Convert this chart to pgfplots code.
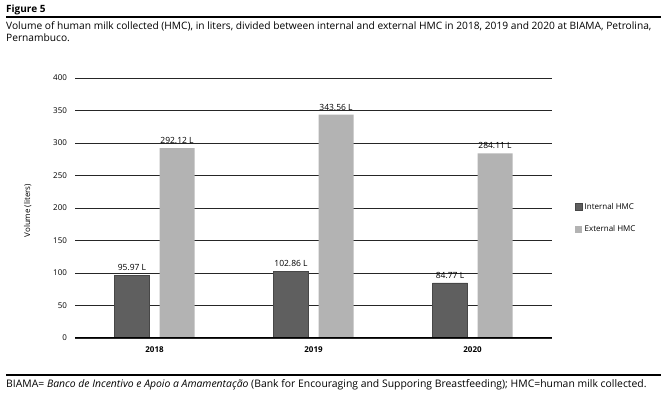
\documentclass[border=0pt]{standalone}
\usepackage{fontspec}
\setmainfont{Open Sans}
\usepackage{pgfplots}
\pgfplotsset{compat=1.18}
\definecolor{cint}{HTML}{5F5F5F}
\definecolor{cext}{HTML}{B3B3B3}
\begin{document}
\begin{tikzpicture}
\path[use as bounding box] (0pt,0pt) rectangle (661pt,393pt);
\node[anchor=west, inner sep=0pt, font=\fontsize{10}{12}\selectfont\bfseries] at (6pt,383pt) {Figure 5};
\draw[line width=1.2pt] (6pt,376pt) -- (661pt,376pt);
\node[anchor=north west, align=left, inner sep=0pt, font=\fontsize{10.2}{12}\selectfont] at (6pt,371pt)
 {Volume of human milk collected (HMC), in liters, divided between internal and external HMC in 2018, 2019 and 2020 at BIAMA, Petrolina,\\Pernambuco.};
\draw[line width=1.8pt] (6pt,18pt) -- (661pt,18pt);
\node[anchor=west, inner sep=0pt, font=\fontsize{10.4}{12}\selectfont] at (6pt,8pt)
 {BIAMA= \textit{Banco de Incentivo e Apoio a Amamentação} (Bank for Encouraging and Supporing Breastfeeding); HMC=human milk collected.};
\begin{axis}[
  at={(75pt,55pt)}, anchor=south west,
  scale only axis, width=477pt, height=260pt,
  ybar=10pt, bar width=35pt,
  ymin=0, ymax=400, xmin=-0.5, xmax=2.5,
  enlargelimits=false,
  xtick={0,1,2}, xticklabels={2018,2019,2020},
  ytick={0,50,...,400},
  ymajorgrids, grid style={black!85, line width=0.8pt},
  axis line style={draw=none},
  major tick length=0pt,
  /pgf/number format/assume math mode=true,
  tick label style={font=\fontsize{8}{9}\selectfont},
  xticklabel style={font=\fontsize{8}{9}\selectfont\bfseries, yshift=-5pt},
  yticklabel style={anchor=east, xshift=-4.5pt},
  ylabel={Volume (liters)},
  ylabel style={font=\fontsize{8}{9}\selectfont, at={(axis description cs:-0.099,0.49)}, anchor=center},
  nodes near coords={\pgfmathprintnumber[fixed,precision=2,fixed zerofill]{\pgfplotspointmeta}~L},
  every node near coord/.append style={font=\fontsize{8.5}{9}\selectfont, yshift=1pt},
  legend style={draw=none, fill=none, at={(1.042,0.46)}, anchor=west, row sep=11pt, font=\fontsize{8}{9}\selectfont, cells={anchor=west}},
  legend image code/.code={\fill[#1] (0pt,-3.5pt) rectangle (7pt,3.5pt);},
]
\addplot[fill=cint, draw=cint!75!black, line width=0.4pt] coordinates {(0,95.97) (1,102.86) (2,84.77)};
\addplot[fill=cext, draw=none] coordinates {(0,292.12) (1,343.56) (2,284.11)};
\legend{Internal HMC, External HMC}
\draw[black, line width=1.6pt] (rel axis cs:0,0) -- (rel axis cs:1,0);
\end{axis}
\end{tikzpicture}
\end{document}
